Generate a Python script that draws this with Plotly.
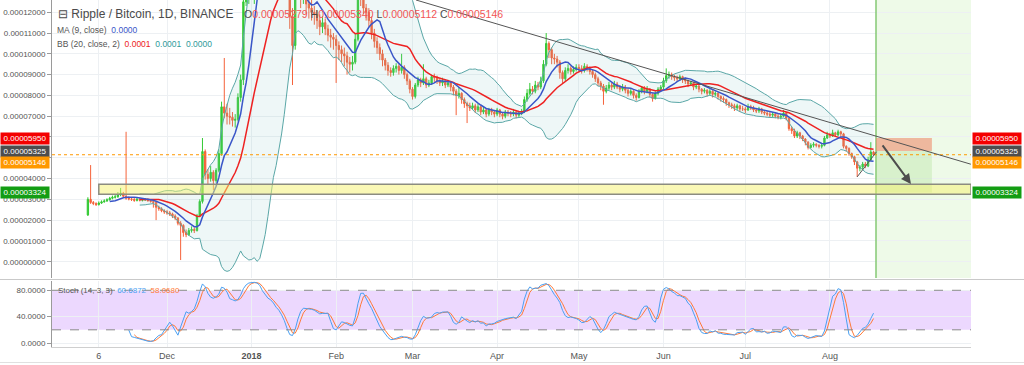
import numpy as np
import pandas as pd
import plotly.graph_objects as go

# ---------------- data (prices in units of 0.00001 BTC) ----------------
UNIT = 1e-5
FIRST_DAY = "2017-11-02"
FIRST_OPEN = 2.25

close_nov = [3.00, 2.85, 2.80, 2.75, 2.82, 2.88, 2.92, 2.98, 3.05, 3.10, 3.12, 3.22, 3.30, 3.15, 3.05,
             3.02, 3.00, 2.95, 3.00, 2.96, 2.98, 3.00, 2.94, 2.90, 2.85, 2.62, 2.55, 2.45, 2.40]
high_nov = [3.10, 4.65, 2.92, 2.86, 2.90, 2.95, 3.00, 3.05, 3.12, 3.18, 3.22, 3.35, 3.55, 3.36, 6.25,
            3.14, 3.10, 3.06, 3.08, 3.06, 3.05, 3.06, 3.05, 3.00, 2.96, 2.90, 2.70, 2.62, 2.52]
low_nov = [2.20, 2.78, 2.72, 2.68, 2.70, 2.78, 2.84, 2.88, 2.94, 3.00, 3.04, 3.08, 3.15, 3.08, 2.98,
           2.95, 2.92, 2.88, 2.90, 2.90, 2.90, 2.92, 2.88, 2.84, 2.60, 2.00, 2.45, 2.38, 2.30]

close_dec = [2.35, 2.30, 2.20, 2.10, 1.85, 1.75, 1.40, 1.30, 1.50, 1.55, 1.50, 2.20, 2.90, 5.30, 4.20, 4.00,
             4.30, 3.90, 4.40, 5.20, 7.45, 7.15, 7.00, 6.95, 6.80, 6.85, 7.90, 8.75, 12.50, 13.50, 15.00]
high_dec = [2.48, 2.44, 2.36, 2.28, 2.15, 1.95, 1.80, 1.55, 1.62, 1.70, 1.65, 2.30, 3.00, 5.95, 5.40, 4.45,
            4.60, 4.40, 4.50, 5.40, 7.70, 9.80, 7.60, 7.40, 7.20, 7.10, 8.10, 9.00, 13.40, 14.60, 16.00]
low_dec = [2.26, 2.20, 2.10, 2.00, 1.75, 0.08, 1.20, 1.18, 1.25, 1.40, 1.38, 1.45, 2.15, 2.80, 3.95, 3.70,
           3.85, 3.45, 3.80, 4.30, 5.10, 6.90, 6.60, 6.60, 6.50, 6.45, 6.75, 7.70, 8.50, 12.30, 12.40]

close_jan = [15.5, 16.0, 17.0, 17.5, 15.5, 16.0, 15.5, 14.5, 14.2, 13.5, 13.8, 15.0, 14.0, 13.2, 11.8, 10.4,
             13.0, 13.6, 12.8, 13.0, 12.4, 12.2, 12.0, 11.9, 11.6, 11.3, 11.5, 11.2, 10.9, 10.8, 10.7]
high_jan = [16.5, 17.0, 18.5, 20.0, 18.0, 17.0, 16.8, 16.0, 15.0, 14.6, 14.3, 15.6, 15.3, 14.4, 13.5, 12.2,
            13.6, 14.5, 13.9, 13.6, 13.2, 12.8, 12.6, 12.3, 12.1, 11.9, 11.8, 11.7, 11.4, 11.2, 11.0]
low_jan = [12.8, 12.4, 15.5, 16.5, 15.0, 15.2, 15.0, 13.8, 13.5, 12.9, 12.9, 13.6, 13.6, 12.8, 11.2, 8.50,
           10.2, 12.6, 12.2, 12.4, 11.9, 11.7, 11.6, 11.4, 11.2, 10.9, 11.0, 10.9, 10.6, 10.3, 10.2]

close_feb = [10.4, 10.2, 10.0, 9.9, 9.6, 9.5, 9.6, 10.7, 13.5, 12.8, 12.2, 12.0, 11.6, 11.0,
             10.6, 10.3, 10.0, 9.7, 9.45, 9.2, 9.1, 9.3, 9.4, 9.2, 9.35, 9.0, 8.7, 8.3]
high_feb = [10.9, 10.6, 10.4, 10.3, 10.1, 9.85, 9.90, 11.0, 14.2, 13.8, 13.0, 12.4, 12.2, 11.8,
            11.2, 10.8, 10.5, 10.2, 9.80, 9.60, 9.35, 9.45, 9.55, 9.50, 10.0, 9.45, 9.10, 8.80]
low_feb = [8.60, 9.70, 9.60, 9.40, 9.00, 9.10, 9.20, 9.50, 10.6, 12.3, 11.9, 11.6, 11.3, 10.7,
           10.3, 10.0, 9.70, 9.40, 9.20, 8.95, 8.90, 8.95, 9.10, 9.00, 9.05, 8.80, 8.50, 8.10]

close_mar = [7.95, 8.5, 8.75, 8.6, 8.8, 8.5, 8.6, 8.9, 8.85, 8.7, 8.6, 8.7, 8.5, 8.6, 8.4, 8.2,
             8.0, 8.1, 7.8, 7.6, 7.5, 7.4, 7.5, 7.3, 7.45, 7.2, 7.3, 7.1, 7.3, 7.2, 7.1]
high_mar = [8.40, 8.60, 8.90, 8.85, 9.50, 8.90, 8.75, 9.00, 9.05, 8.95, 8.80, 8.85, 8.75, 8.75, 8.65, 8.50,
            8.30, 8.40, 8.15, 7.90, 7.70, 7.65, 7.65, 7.60, 7.60, 7.50, 7.45, 7.35, 7.40, 7.40, 7.30]
low_mar = [7.80, 7.85, 8.40, 8.40, 8.50, 8.35, 8.40, 8.50, 8.65, 8.55, 8.45, 8.45, 8.35, 8.40, 8.20, 8.00,
           7.05, 7.85, 7.60, 7.40, 6.67, 7.25, 7.30, 7.15, 7.20, 7.05, 7.10, 6.95, 7.00, 7.05, 6.95]

close_apr = [7.3, 7.1, 7.0, 7.2, 7.15, 7.1, 7.2, 7.05, 7.15, 7.2, 7.8, 8.1, 8.3, 8.2, 8.5,
             8.4, 8.7, 9.5, 10.5, 10.2, 9.8, 9.75, 9.6, 9.1, 8.8, 9.2, 9.3, 9.15, 9.25, 9.35]
high_apr = [7.40, 7.35, 7.20, 7.30, 7.30, 7.25, 7.35, 7.25, 7.25, 7.35, 7.95, 8.30, 8.60, 8.45, 8.70,
            8.65, 8.90, 9.70, 11.0, 10.6, 10.3, 10.0, 9.90, 9.70, 9.20, 9.35, 9.50, 9.40, 9.40, 9.50]
low_apr = [7.00, 6.95, 6.85, 6.90, 7.00, 6.95, 7.00, 6.90, 6.95, 7.05, 7.15, 7.70, 8.00, 8.05, 8.10,
           8.25, 8.30, 8.60, 9.40, 9.80, 9.50, 9.50, 9.35, 8.80, 8.60, 8.70, 9.05, 9.00, 9.05, 9.15]

close_may = [9.3, 9.2, 9.4, 9.3, 9.15, 9.0, 8.8, 8.6, 8.45, 8.2, 8.35, 8.5, 8.4, 8.55, 8.4, 8.3,
             8.4, 8.25, 8.1, 8.2, 8.0, 7.9, 8.2, 8.35, 8.2, 8.3, 8.05, 7.85, 8.1, 8.3, 8.4]
high_may = [9.50, 9.45, 9.55, 9.50, 9.40, 9.25, 9.10, 8.90, 8.70, 8.55, 8.50, 8.65, 8.60, 8.70, 8.65, 8.50,
            8.55, 8.50, 8.35, 8.30, 8.25, 8.10, 8.30, 8.45, 8.45, 8.45, 8.35, 8.10, 8.20, 8.40, 8.50]
low_may = [9.15, 9.05, 9.10, 9.15, 9.00, 8.85, 8.65, 8.45, 8.25, 7.55, 8.10, 8.25, 8.25, 8.30, 8.30, 8.15,
           8.20, 8.10, 7.95, 8.00, 7.85, 7.75, 7.85, 8.10, 8.05, 8.10, 7.90, 7.70, 7.80, 8.00, 8.20]

close_jun = [8.7, 8.95, 9.0, 8.9, 8.85, 8.8, 8.9, 8.75, 8.7, 8.55, 8.6, 8.4, 8.45, 8.3, 8.2,
             8.25, 8.1, 8.2, 8.05, 8.1, 7.95, 7.85, 7.8, 7.65, 7.55, 7.5, 7.4, 7.5, 7.35, 7.35]
high_jun = [8.85, 9.30, 9.15, 9.10, 9.00, 8.95, 9.00, 8.95, 8.85, 8.75, 8.70, 8.65, 8.55, 8.50, 8.35,
            8.35, 8.30, 8.30, 8.25, 8.20, 8.15, 8.00, 7.95, 7.85, 7.70, 7.65, 7.60, 7.60, 7.55, 7.50]
low_jun = [8.30, 8.60, 8.80, 8.75, 8.70, 8.65, 8.70, 8.60, 8.55, 8.40, 8.45, 8.25, 8.30, 8.15, 8.05,
           8.10, 7.95, 8.00, 7.90, 7.95, 7.80, 7.70, 7.65, 7.50, 7.40, 7.35, 7.25, 7.30, 7.20, 7.25]

close_jul = [7.3, 7.45, 7.4, 7.3, 7.25, 7.35, 7.2, 7.15, 7.1, 7.05, 7.1, 7.0, 6.95, 7.0, 7.15, 6.9,
             6.4, 6.3, 6.05, 6.2, 6.05, 5.9, 5.75, 5.5, 5.6, 5.65, 5.6, 5.55, 5.6, 5.95, 6.1]
high_jul = [7.45, 7.60, 7.55, 7.50, 7.40, 7.45, 7.40, 7.30, 7.25, 7.20, 7.20, 7.15, 7.10, 7.10, 7.30, 7.20,
            6.95, 6.50, 6.40, 6.30, 6.25, 6.10, 5.95, 5.80, 5.70, 5.75, 5.70, 5.65, 5.70, 6.05, 6.25]
low_jul = [7.15, 7.25, 7.30, 7.20, 7.15, 7.15, 7.10, 7.05, 7.00, 6.95, 6.95, 6.90, 6.85, 6.85, 6.95, 6.80,
           6.30, 6.15, 5.95, 5.95, 5.90, 5.80, 5.60, 5.40, 5.45, 5.50, 5.50, 5.45, 5.45, 5.55, 5.90]

close_aug = [6.05, 6.2, 6.1, 6.25, 6.15, 5.55, 5.45, 5.2, 5.05, 4.8, 4.5, 4.55, 4.7, 4.6, 4.9, 5.279, 5.146]
high_aug = [6.20, 6.35, 6.25, 6.35, 6.30, 6.20, 5.60, 5.50, 5.25, 5.10, 4.85, 4.65, 4.80, 4.80, 5.05, 5.75, 5.34]
low_aug = [5.95, 6.00, 6.00, 6.05, 5.95, 5.45, 5.30, 5.10, 4.95, 4.65, 4.08, 4.35, 4.45, 4.50, 4.55, 4.85, 5.112]

# header / legend readouts shown on the chart
ohlc_text = ["0.00005279", "0.00005340", "0.00005112", "0.00005146"]
stoch_text = ["60.6872", "58.0680"]

# price-scale labels (value, box colour)
price_labels = [(5.950, "#f40000"), (5.325, "#4d4d4d"), (5.146, "#ff9800"), (3.324, "#139d13")]

# axis ticks
date_tick_vals = ["2017-11-06", "2017-12-01", "2018-01-01", "2018-02-01", "2018-03-01", "2018-04-01",
                  "2018-05-01", "2018-06-01", "2018-07-01", "2018-08-01"]
date_tick_text = ["6", "Dec", "<b>2018</b>", "Feb", "Mar", "Apr", "May", "Jun", "Jul", "Aug"]
price_tick_vals = [0, 1, 2, 3, 4, 5, 6, 7, 8, 9, 10, 11, 12]
stoch_tick_vals = [0, 40, 80]

# hand drawings (chart tools)
support_zone = ("2017-11-06", 3.25, 3.73)
position_start, position_end = "2018-08-17 21:30", "2018-09-07 09:30"
position_stop, position_entry, position_target = 5.95, 5.325, 3.324
trend_line = [("2018-03-02 07:00", 12.59), ("2018-09-21 16:00", 4.69)]
low_line = [("2018-08-11 00:00", 4.08), ("2018-08-18 02:30", 5.29)]
arrow_line = [("2018-08-19 21:30", 5.665), ("2018-08-30 17:00", 3.74)]

# ---------------- build series ----------------
close = np.array(close_nov + close_dec + close_jan + close_feb + close_mar + close_apr +
                 close_may + close_jun + close_jul + close_aug) * UNIT
high = np.array(high_nov + high_dec + high_jan + high_feb + high_mar + high_apr +
                high_may + high_jun + high_jul + high_aug) * UNIT
low = np.array(low_nov + low_dec + low_jan + low_feb + low_mar + low_apr +
               low_may + low_jun + low_jul + low_aug) * UNIT
opn = np.concatenate([[FIRST_OPEN * UNIT], close[:-1]])
dates = pd.date_range(FIRST_DAY, periods=len(close), freq="D")

s = pd.Series(close)
ma9 = s.rolling(9).mean()
basis = s.rolling(20).mean()
sd = s.rolling(20).std(ddof=0)
upper = basis + 2 * sd
lower = basis - 2 * sd
hh = pd.Series(high).rolling(14).max()
ll = pd.Series(low).rolling(14).min()
raw = 100 * (s - ll) / (hh - ll)
k_line = raw.rolling(3).mean()
d_line = k_line.rolling(3).mean()

# ---------------- layout geometry ----------------
W, H = 1024, 365
ML, MR, MT, MB = 52, 53, 0, 18
PW, PH = W - ML - MR, H - MT - MB


def px(x):
    return (x - ML) / PW


def py(y):
    return (H - MB - y) / PH


DAY_PX = 2.728
anchor = pd.Timestamp("2017-12-01")
x_range = [anchor - pd.Timedelta(days=(167 - ML) / DAY_PX), anchor + pd.Timedelta(days=(971 - 167) / DAY_PX)]
main_dom = [py(278), 1.0]
stoch_dom = [0.0, py(281)]
y_range = [-0.784 * UNIT, 12.59 * UNIT]
s_range = [-6.07, 94.1]

FONT = "Liberation Sans, Arial, sans-serif"
GRID = "#edf0f3"
AX = "#9a9a9a"
TXT = "#555555"
UP, DOWN = "#33c933", "#f5623a"
BAND, BAND_FILL = "#5aa7a7", "rgba(120,190,190,0.13)"
BASIS_C, MA_C = "#ee2222", "#3a56c8"
K_C, D_C = "#4aa0f2", "#ff7a38"

fig = go.Figure()
fig.add_trace(go.Scatter(x=dates[19:], y=upper[19:], mode="lines", line=dict(color=BAND, width=1),
                         hoverinfo="skip", showlegend=False))
fig.add_trace(go.Scatter(x=dates[19:], y=lower[19:], mode="lines", line=dict(color=BAND, width=1),
                         fill="tonexty", fillcolor=BAND_FILL, hoverinfo="skip", showlegend=False))
fig.add_trace(go.Candlestick(x=dates, open=opn, high=high, low=low, close=close,
                             increasing=dict(line=dict(color=UP, width=1), fillcolor=UP),
                             decreasing=dict(line=dict(color=DOWN, width=1), fillcolor=DOWN),
                             whiskerwidth=0, showlegend=False))
fig.add_trace(go.Scatter(x=dates[19:], y=basis[19:], mode="lines", line=dict(color=BASIS_C, width=1.5),
                         showlegend=False))
fig.add_trace(go.Scatter(x=dates[8:], y=ma9[8:], mode="lines", line=dict(color=MA_C, width=1.5),
                         showlegend=False))
fig.add_trace(go.Scatter(x=dates, y=d_line, mode="lines", line=dict(color=D_C, width=1),
                         xaxis="x2", yaxis="y3", showlegend=False))
fig.add_trace(go.Scatter(x=dates, y=k_line, mode="lines", line=dict(color=K_C, width=1),
                         xaxis="x2", yaxis="y3", showlegend=False))

shapes = []
# stochastic band
shapes.append(dict(type="rect", xref="paper", yref="y3", x0=0, x1=1, y0=20, y1=80,
                   fillcolor="rgba(160,60,250,0.2)", line=dict(width=0), layer="below"))
for lvl in (20, 80):
    shapes.append(dict(type="line", xref="paper", yref="y3", x0=0, x1=1, y0=lvl, y1=lvl,
                       line=dict(color="#8a8a8a", width=1, dash="dash")))
# green projection region
shapes.append(dict(type="rect", xref="x", yref="paper", x0=position_start, x1=x_range[1],
                   y0=main_dom[0], y1=1, fillcolor="rgba(200,240,180,0.3)", line=dict(width=0), layer="below"))
shapes.append(dict(type="line", xref="x", yref="paper", x0=position_start, x1=position_start,
                   y0=main_dom[0], y1=1, line=dict(color="#84c874", width=1.5)))
# position tool
shapes.append(dict(type="rect", xref="x", yref="y", x0=position_start, x1=position_end,
                   y0=position_entry * UNIT, y1=position_stop * UNIT,
                   fillcolor="rgba(238,130,96,0.55)", line=dict(width=0)))
shapes.append(dict(type="rect", xref="x", yref="y", x0=position_start, x1=position_end,
                   y0=position_target * UNIT, y1=position_entry * UNIT,
                   fillcolor="rgba(150,215,120,0.25)", line=dict(width=0)))
# support zone
shapes.append(dict(type="rect", xref="x", yref="y", x0=support_zone[0], x1=x_range[1],
                   y0=support_zone[1] * UNIT, y1=support_zone[2] * UNIT,
                   fillcolor="rgba(245,242,110,0.5)", line=dict(color="#8c8c80", width=1.5)))
# last price line
shapes.append(dict(type="line", xref="paper", yref="y", x0=0, x1=1, y0=5.146 * UNIT, y1=5.146 * UNIT,
                   line=dict(color="#ff9800", width=1, dash="dot")))
# trend line and low line
for (a, b) in (trend_line, low_line):
    shapes.append(dict(type="line", xref="x", yref="y", x0=a[0], y0=a[1] * UNIT, x1=b[0], y1=b[1] * UNIT,
                       line=dict(color="#555555", width=1)))
# separators
shapes.append(dict(type="line", xref="paper", yref="paper", x0=px(0), x1=px(W), y0=py(279.5), y1=py(279.5),
                   line=dict(color="#c9c9c9", width=1)))
shapes.append(dict(type="line", xref="paper", yref="paper", x0=px(0), x1=px(W), y0=py(362.5), y1=py(362.5),
                   line=dict(color="#e0e0e0", width=1)))

ann = []
ann.append(dict(xref="x", yref="y", x=arrow_line[1][0], y=arrow_line[1][1] * UNIT,
                ax=arrow_line[0][0], ay=arrow_line[0][1] * UNIT, axref="x", ayref="y",
                showarrow=True, arrowhead=2, arrowsize=1, arrowwidth=2, arrowcolor="#4d4d4d", text=""))
ann.append(dict(xref="paper", yref="paper", x=px(56), y=py(14), xanchor="left", yanchor="middle",
                text="⊟ Ripple / Bitcoin, 1D, BINANCE", showarrow=False,
                font=dict(family=FONT, size=12, color="#4a4a4a")))
red = "#f25555"
ohlc = "\u00a0".join(f"{lab}<span style='color:{red}'>{v}</span>" for lab, v in zip("OHLC", ohlc_text))
ann.append(dict(xref="paper", yref="paper", x=px(242), y=py(14), xanchor="left", yanchor="middle",
                text=ohlc, showarrow=False, font=dict(family=FONT, size=10.5, color="#4a4a4a")))
ann.append(dict(xref="paper", yref="paper", x=px(55), y=py(30), xanchor="left", yanchor="middle",
                text="MA (9, close)\u00a0\u00a0<span style='color:#3a56c8'>0.0000</span>", showarrow=False,
                font=dict(family=FONT, size=8.5, color=TXT)))
ann.append(dict(xref="paper", yref="paper", x=px(55), y=py(44), xanchor="left", yanchor="middle",
                text="BB (20, close, 2)\u00a0\u00a0<span style='color:#ee2222'>0.0001</span>\u00a0\u00a0"
                     "<span style='color:#2f9a9a'>0.0001</span>\u00a0\u00a0<span style='color:#2f9a9a'>0.0000</span>",
                showarrow=False, font=dict(family=FONT, size=8.5, color=TXT)))
ann.append(dict(xref="paper", yref="paper", x=px(56), y=py(290), xanchor="left", yanchor="middle",
                text=f"Stoch (14, 3, 3)\u00a0\u00a0<span style='color:{K_C}'>{stoch_text[0]}</span>\u00a0\u00a0"
                     f"<span style='color:{D_C}'>{stoch_text[1]}</span>",
                showarrow=False, font=dict(family=FONT, size=8, color=TXT)))
for val, col in price_labels:
    shift = -8 if abs(val - 5.146) < 1e-6 else 0
    for xx, anc in ((px(50), "right"), (px(972), "left")):
        ann.append(dict(xref="paper", yref="y", x=xx, y=val * UNIT, xanchor=anc, yanchor="middle",
                        yshift=shift, text=f"{val * UNIT:.8f}", showarrow=False, bgcolor=col,
                        width=46, height=9, borderpad=1, align="center", valign="middle",
                        font=dict(family=FONT, size=8, color="white")))

ptext = ["" if v in (5, 6) else f"{v * UNIT:.8f}" for v in price_tick_vals]
yax_common = dict(range=y_range, domain=main_dom, tickmode="array", tickvals=[v * UNIT for v in price_tick_vals],
                  ticktext=ptext, tickfont=dict(family=FONT, size=8, color=TXT), ticks="outside", ticklen=4,
                  tickcolor=AX, showline=True, linecolor=AX, zeroline=False, fixedrange=True)
sax_common = dict(range=s_range, domain=stoch_dom, tickmode="array", tickvals=stoch_tick_vals,
                  ticktext=[f"{v:.4f}" for v in stoch_tick_vals], tickfont=dict(family=FONT, size=8, color=TXT),
                  ticks="outside", ticklen=4, tickcolor=AX, showline=True, linecolor=AX, zeroline=False)

fig.update_layout(
    width=W, height=H, margin=dict(l=ML, r=MR, t=MT, b=MB),
    paper_bgcolor="white", plot_bgcolor="white", showlegend=False,
    xaxis=dict(domain=[0, 1], anchor="y", range=x_range, type="date", tickmode="array",
               tickvals=date_tick_vals, showticklabels=False, showgrid=True, gridcolor=GRID,
               showline=False, rangeslider=dict(visible=False), zeroline=False),
    xaxis2=dict(domain=[0, 1], anchor="y3", range=x_range, type="date", matches="x", tickmode="array",
                tickvals=date_tick_vals, ticktext=date_tick_text, tickfont=dict(family=FONT, size=9, color=TXT),
                showgrid=True, gridcolor=GRID, showline=True, linecolor="#cfcfcf", ticks="",
                rangeslider=dict(visible=False)),
    yaxis=dict(side="left", anchor="x", showgrid=True, gridcolor=GRID, **yax_common),
    yaxis2=dict(side="right", anchor="x", overlaying="y", showgrid=False, **yax_common),
    yaxis3=dict(side="left", anchor="x2", showgrid=True, gridcolor=GRID, **sax_common),
    yaxis4=dict(side="right", anchor="x2", overlaying="y3", showgrid=False, **sax_common),
    shapes=shapes, annotations=ann,
)

fig.write_html("out.html", config={"displayModeBar": False},
               post_script="document.body.style.margin='0px';document.body.style.overflow='hidden';")
